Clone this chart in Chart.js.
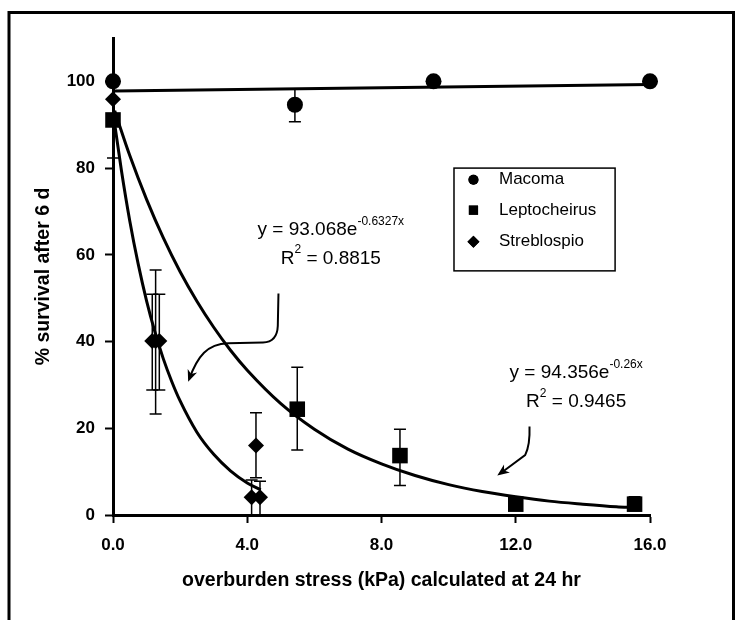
<!DOCTYPE html>
<html><head><meta charset="utf-8">
<script src="https://cdn.jsdelivr.net/npm/chart.js@4"></script>
<style>html,body{margin:0;padding:0;background:#fff}#wrap{width:735px;height:620px;position:relative}</style>
</head><body><div id="wrap"><canvas id="c" width="735" height="620"></canvas></div>
<script>
// ---- data ----
const xTicks = [0, 4, 8, 12, 16];
const yTicks = [0, 20, 40, 60, 80, 100];
const seriesNames = ['Macoma', 'Leptocheirus', 'Streblospio'];

const macomaX = [0, 5.42, 9.55, 16];
const macomaY = [100, 94.6, 100, 100];
const macomaErrLow = [null, 90.7, null, null];
const macomaErrHigh = [null, 98.2, null, null];

const leptoX = [0, 5.49, 8.55, 12.0, 15.54];
const leptoY = [91.1, 24.4, 13.7, 2.5, 2.5];
const leptoErrLow = [82.3, 15.0, 6.8, null, 1.0];
const leptoErrHigh = [100, 34.1, 19.8, null, 4.2];

const strebX = [0, 1.17, 1.27, 1.38, 4.13, 4.26, 4.38];
const strebY = [95.9, 40.1, 40.1, 40.1, 4.1, 16.0, 4.1];
const strebErrLow = [null, 28.8, 23.3, 28.8, 0, 8.6, 0];
const strebErrHigh = [null, 50.9, 56.5, 50.9, 8.1, 23.6, 7.8];

// fitted trend lines
const macomaFitX = [0.05, 16];
const macomaFitY = [97.8, 99.3];
const leptoFitX = [0.05, 0.5, 1, 1.5, 2, 2.5, 3, 3.5, 4, 5, 6, 7, 8, 9, 10, 11, 12, 13, 14, 15, 15.5];
const leptoFitY = [93.2, 82.9, 72.8, 63.9, 56.1, 49.3, 43.3, 38.0, 33.4, 25.7, 19.8, 15.2, 11.8, 9.1, 7.0, 5.4, 4.2, 3.2, 2.5, 1.9, 1.7];
const strebFitX = [0.05, 0.25, 0.5, 0.75, 1, 1.25, 1.5, 1.75, 2, 2.5, 3, 3.5, 4, 4.4];
const strebFitY = [90.2, 79.5, 67.8, 57.9, 49.4, 42.2, 36.0, 30.8, 26.3, 19.1, 14.0, 10.2, 7.4, 5.8];

const eq1Lines = [['y = 93.068e', '-0.6327x'], ['R', '2', ' = 0.8815']];
const eq2Lines = [['y = 94.356e', '-0.26x'], ['R', '2', ' = 0.9465']];
const xTitle = 'overburden stress (kPa) calculated at 24 hr';
const yTitle = '% survival after 6 d';

// ---- chart ----
const FONT = "'Liberation Sans', Arial, Helvetica, sans-serif";
Chart.defaults.font.family = FONT;
Chart.defaults.color = '#000';

const pts = (xs, ys) => xs.map((x, i) => ({x, y: ys[i]}));

const errorSets = [
  {x: macomaX, lo: macomaErrLow, hi: macomaErrHigh},
  {x: leptoX, lo: leptoErrLow, hi: leptoErrHigh},
  {x: strebX, lo: strebErrLow, hi: strebErrHigh}
];

function eqDraw(ctx, cx, cy, parts, big, small) {
  // parts: alternating normal / superscript strings
  let w = 0;
  const widths = parts.map((t, i) => {
    ctx.font = (i % 2 === 0 ? big : small);
    const m = ctx.measureText(t).width; w += m; return m;
  });
  let x = cx - w / 2;
  ctx.textAlign = 'left';
  ctx.textBaseline = 'middle';
  parts.forEach((t, i) => {
    ctx.font = (i % 2 === 0 ? big : small);
    ctx.fillText(t, x, i % 2 === 0 ? cy : cy - 8.5);
    x += widths[i];
  });
}

function arrowHead(ctx, tip, from, len, half) {
  const dx = tip[0] - from[0], dy = tip[1] - from[1];
  const L = Math.hypot(dx, dy); const ux = dx / L, uy = dy / L;
  const bx = tip[0] - ux * len, by = tip[1] - uy * len;
  ctx.beginPath();
  ctx.moveTo(tip[0], tip[1]);
  ctx.lineTo(bx - uy * half, by + ux * half);
  ctx.lineTo(tip[0] - ux * len * 0.7, tip[1] - uy * len * 0.7);
  ctx.lineTo(bx + uy * half, by - ux * half);
  ctx.closePath();
  ctx.fill();
}

const annot = {
  id: 'annot',
  beforeDatasetsDraw(chart) {
    const {ctx, scales: {x, y}} = chart;
    ctx.save();
    ctx.strokeStyle = '#000';
    ctx.lineWidth = 1.5;
    errorSets.forEach(s => {
      s.x.forEach((xv, i) => {
        const lo = s.lo[i], hi = s.hi[i];
        if (lo == null && hi == null) return;
        const px = x.getPixelForValue(xv);
        const p1 = y.getPixelForValue(lo), p2 = y.getPixelForValue(hi);
        ctx.beginPath();
        ctx.moveTo(px, p1); ctx.lineTo(px, p2);
        if (lo > 0) { ctx.moveTo(px - 6, p1); ctx.lineTo(px + 6, p1); }
        ctx.moveTo(px - 6, p2); ctx.lineTo(px + 6, p2);
        ctx.stroke();
      });
    });
    ctx.restore();
  },
  afterDraw(chart) {
    const {ctx, scales: {x, y}} = chart;
    const P = (a, b) => [x.getPixelForValue(a), y.getPixelForValue(b)];
    ctx.save();
    ctx.fillStyle = '#000';
    ctx.strokeStyle = '#000';

    // legend box
    const tl = P(10.16, 80.0), br = P(14.96, 56.3);
    ctx.fillStyle = '#fff';
    ctx.fillRect(tl[0], tl[1], br[0] - tl[0], br[1] - tl[1]);
    ctx.fillStyle = '#000';
    ctx.lineWidth = 1.5;
    ctx.strokeRect(tl[0], tl[1], br[0] - tl[0], br[1] - tl[1]);
    const rowsY = [77.3, 70.3, 63.0];
    const styles = ['circle', 'rect', 'rectRot'];
    const radii = [5, 6.5, 6];
    rowsY.forEach((ry, i) => {
      const m = P(10.74, ry);
      Chart.helpers.drawPoint(ctx, {pointStyle: styles[i], radius: radii[i], borderWidth: 0, rotation: 0}, m[0], m[1]);
      ctx.fill();
      const t = P(11.5, ry);
      ctx.font = '17px ' + FONT;
      ctx.textAlign = 'left';
      ctx.textBaseline = 'middle';
      ctx.fillText(seriesNames[i], t[0], t[1]);
    });

    // equations
    const big = '19px ' + FONT, small = '12px ' + FONT;
    let c = P(6.49, 65.7); eqDraw(ctx, c[0], c[1], eq1Lines[0], big, small);
    c = P(6.49, 59.2); eqDraw(ctx, c[0], c[1], eq1Lines[1], big, small);
    c = P(13.8, 32.7); eqDraw(ctx, c[0], c[1], eq2Lines[0], big, small);
    c = P(13.8, 26.1); eqDraw(ctx, c[0], c[1], eq2Lines[1], big, small);

    // arrows
    ctx.lineWidth = 2;
    let a0 = P(4.93, 51.1), a1 = P(4.91, 43.6), q = P(4.89, 39.9), a2 = P(4.47, 39.8),
        a3 = P(3.43, 39.6), c1 = P(2.80, 39.4), c2 = P(2.53, 36.7), tip = P(2.24, 30.7);
    ctx.beginPath();
    ctx.moveTo(...a0); ctx.lineTo(...a1);
    ctx.quadraticCurveTo(q[0], q[1], a2[0], a2[1]);
    ctx.lineTo(...a3);
    ctx.bezierCurveTo(c1[0], c1[1], c2[0], c2[1], tip[0] + 1, tip[1] - 3);
    ctx.stroke();
    arrowHead(ctx, tip, c2, 12, 5);

    a0 = P(12.41, 20.4); q = P(12.43, 16.1); a1 = P(12.28, 13.8); tip = P(11.45, 9.1);
    ctx.beginPath();
    ctx.moveTo(...a0);
    ctx.quadraticCurveTo(q[0], q[1], a1[0], a1[1]);
    ctx.lineTo(tip[0] + 3, tip[1] - 2);
    ctx.stroke();
    arrowHead(ctx, tip, a1, 12, 5);

    // outer frame
    ctx.lineWidth = 3;
    ctx.beginPath();
    ctx.moveTo(9, 620); ctx.lineTo(9, 12.5); ctx.lineTo(733.5, 12.5); ctx.lineTo(733.5, 620);
    ctx.stroke();
    ctx.restore();
  }
};

const fitStyle = {showLine: true, pointRadius: 0, borderColor: '#000', borderWidth: 3, fill: false, clip: false, tension: 0.4, cubicInterpolationMode: 'monotone'};
const ptStyle = {showLine: false, backgroundColor: '#000', borderColor: '#000', borderWidth: 0, clip: false};

new Chart(document.getElementById('c'), {
  type: 'scatter',
  data: {
    datasets: [
      Object.assign({label: 'Macoma fit', data: pts(macomaFitX, macomaFitY)}, fitStyle, {tension: 0}),
      Object.assign({label: 'Leptocheirus fit', data: pts(leptoFitX, leptoFitY)}, fitStyle),
      Object.assign({label: 'Streblospio fit', data: pts(strebFitX, strebFitY)}, fitStyle),
      Object.assign({label: seriesNames[0], data: pts(macomaX, macomaY), pointStyle: 'circle', pointRadius: 8}, ptStyle),
      Object.assign({label: seriesNames[1], data: pts(leptoX, leptoY), pointStyle: 'rect', pointRadius: 11}, ptStyle),
      Object.assign({label: seriesNames[2], data: pts(strebX, strebY), pointStyle: 'rectRot', pointRadius: 8}, ptStyle)
    ]
  },
  options: {
    responsive: false,
    animation: false,
    events: [],
    layout: {padding: {left: 0, top: 38, right: 85, bottom: 0}},
    plugins: {legend: {display: false}, tooltip: {enabled: false}},
    scales: {
      x: {
        type: 'linear', min: 0, max: 16,
        afterBuildTicks: s => { s.ticks = xTicks.map(v => ({value: v})); },
        afterFit: s => { s.height = 105; },
        ticks: {callback: v => Number(v).toFixed(1), font: {size: 17, weight: 'bold'}, color: '#000', padding: 12, autoSkip: false, maxRotation: 0},
        grid: {display: true, drawOnChartArea: false, drawTicks: true, tickLength: 8, tickWidth: 2, tickColor: '#000'},
        border: {display: true, color: '#000', width: 3},
        title: {display: true, text: xTitle, font: {size: 19.5, weight: 'bold'}, color: '#000', padding: {top: 0, bottom: 28}}
      },
      y: {
        type: 'linear', min: 0, max: 110,
        afterBuildTicks: s => { s.ticks = yTicks.map(v => ({value: v})); },
        afterFit: s => { s.width = 113; },
        ticks: {font: {size: 17, weight: 'bold'}, color: '#000', padding: 10, autoSkip: false},
        grid: {display: true, drawOnChartArea: false, drawTicks: true, tickLength: 8, tickWidth: 2, tickColor: '#000'},
        border: {display: true, color: '#000', width: 3},
        title: {display: true, text: yTitle, font: {size: 19.5, weight: 'bold'}, color: '#000', padding: {top: 32, bottom: 0}}
      }
    }
  },
  plugins: [annot]
});
</script>
</body></html>
